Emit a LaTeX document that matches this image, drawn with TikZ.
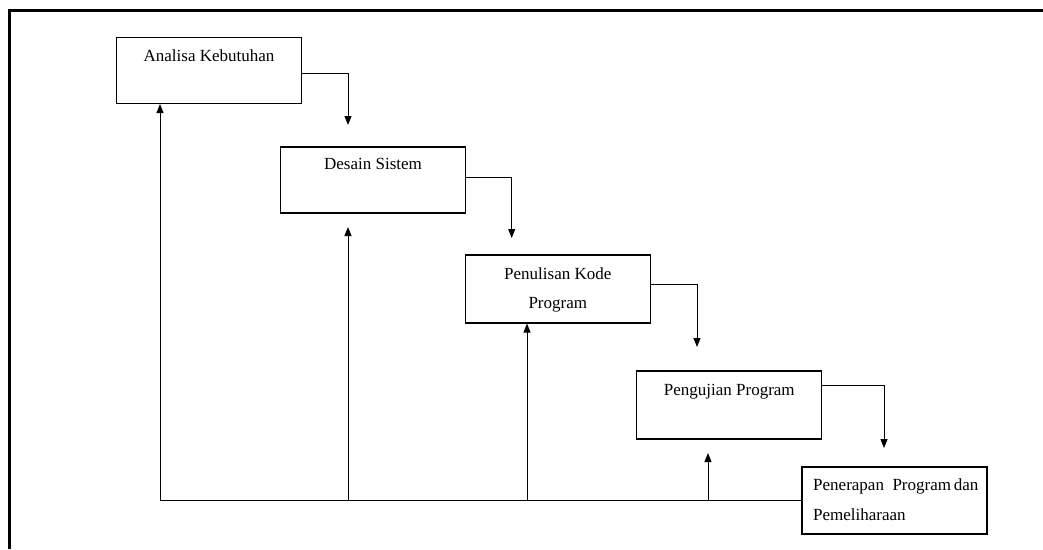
\documentclass[tikz,border=0pt]{standalone}
\usepackage{fontspec}
\setmainfont{Liberation Serif}
\usetikzlibrary{arrows.meta}
\begin{document}
\begin{tikzpicture}[x=1pt,y=-1pt,
  box/.style={draw,line width=1.1pt,minimum width=185pt,inner sep=0pt},
  lbl/.style={font=\fontsize{17}{20}\selectfont,inner sep=0pt,anchor=base},
  flow/.style={line width=1pt,-{Triangle[length=9pt,width=7pt]}},
  line/.style={line width=1pt},
  frame/.style={line width=3pt,line join=miter}]
\useasboundingbox (0,0) rectangle (1043,549);
% frame
\coordinate (fr1) at (1043,10.5);
\coordinate (fr2) at (9.5,10.5);
\coordinate (fr3) at (9.5,549);
\draw[frame] (fr1) -- (fr2) -- (fr3);
% boxes
\node[box,minimum height=66pt] (b1) at (209,70.5) {};
\node[box,minimum height=66pt] (b2) at (372.8,180) {};
\node[box,minimum height=68pt] (b3) at (557.8,289) {};
\node[box,minimum height=68pt] (b4) at (729.3,405) {};
\node[box,minimum height=67pt] (b5) at (894.5,500.5) {};
% labels
\node[lbl] (l1) at (209,61) {Analisa Kebutuhan};
\node[lbl] (l2) at (373,169.3) {Desain Sistem};
\node[lbl] (l3a) at (557.8,279.3) {Penulisan Kode};
\node[lbl] (l3b) at (557.8,308.3) {Program};
\node[lbl] (l4) at (729.3,395) {Pengujian Program};
\node[lbl,anchor=base west] (l5a) at (813,490) {Penerapan\ \ Program\,dan};
\node[lbl,anchor=base west] (l5b) at (813,520) {Pemeliharaan};
% forward arrows
\coordinate (t12) at (348,125);
\coordinate (t23) at (511.7,238);
\coordinate (t34) at (697,347);
\coordinate (t45) at (884,448);
\draw[flow] ([yshift=-2.5pt]b1.east) -| (t12);
\draw[flow] ([yshift=3pt]b2.east) -| (t23);
\draw[flow] ([yshift=5pt]b3.east) -| (t34);
\draw[flow] ([yshift=20pt]b4.east) -| (t45);
% feedback
\coordinate (f1) at (160,500.5);
\coordinate (f2) at (348,500.5);
\coordinate (f3) at (527,500.5);
\coordinate (f4) at (708,500.5);
\coordinate (u2) at (348,227);
\coordinate (u4) at (708,453);
\draw[line] (f1) -- (b5.west);
\draw[flow] (f1) -- (f1 |- b1.south);
\draw[flow] (f2) -- (u2);
\draw[flow] (f3) -- (f3 |- b3.south);
\draw[flow] (f4) -- (u4);
\end{tikzpicture}
\end{document}
